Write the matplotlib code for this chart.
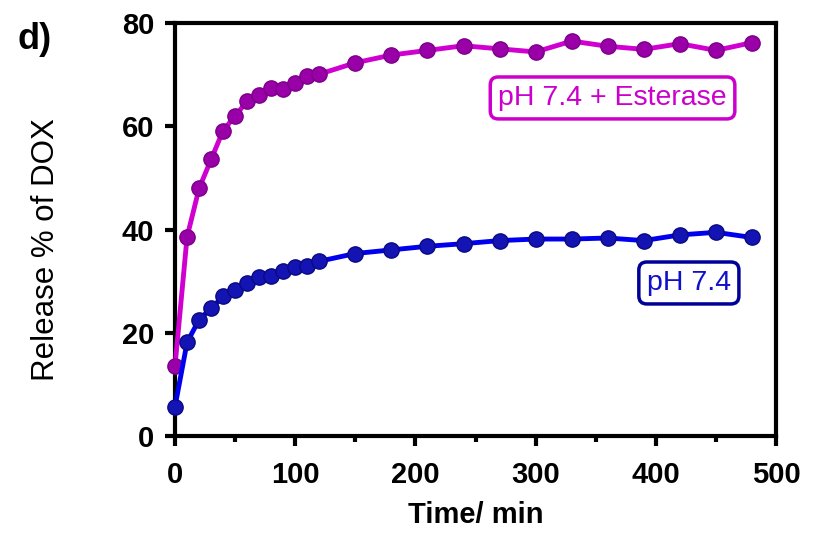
import matplotlib.pyplot as plt
from matplotlib.ticker import MultipleLocator

plt.rcParams['font.family'] = ['Liberation Sans', 'DejaVu Sans']

time_min = [0, 10, 20, 30, 40, 50, 60, 70, 80, 90, 100, 110, 120,
            150, 180, 210, 240, 270, 300, 330, 360, 390, 420, 450, 480]
esterase = [13.7, 38.6, 48.0, 53.6, 59.2, 62.0, 64.9, 66.0, 67.5, 67.3, 68.3, 69.7, 70.1,
            72.3, 73.8, 74.7, 75.6, 75.0, 74.4, 76.5, 75.5, 74.9, 76.0, 74.7, 76.2]
ph74 = [5.8, 18.2, 22.6, 24.8, 27.1, 28.3, 29.7, 30.9, 31.1, 32.1, 32.8, 32.9, 33.9,
        35.4, 36.1, 36.8, 37.3, 37.9, 38.2, 38.2, 38.4, 37.9, 39.0, 39.5, 38.5]

fig = plt.figure(figsize=(8.13, 5.4), dpi=100)
ax = fig.add_axes([0.2153, 0.1917, 0.7392, 0.7657])

ax.plot(time_min, esterase, color='#d000d0', lw=3.5, marker='o', ms=11,
        mfc='#9a00a8', mec='#7a0088', mew=1, zorder=3, clip_on=False)
ax.plot(time_min, ph74, color='#0000ee', lw=3.5, marker='o', ms=11,
        mfc='#1414b4', mec='#0a0a80', mew=1, zorder=3, clip_on=False)

ax.set_xlim(0, 500)
ax.set_ylim(0, 80)
ax.xaxis.set_major_locator(MultipleLocator(100))
ax.xaxis.set_minor_locator(MultipleLocator(50))
ax.yaxis.set_major_locator(MultipleLocator(20))

for s in ax.spines.values():
    s.set_linewidth(3)
ax.tick_params(axis='both', which='major', width=3, length=7, labelsize=21)
ax.tick_params(axis='x', which='minor', width=3, length=4)
ax.tick_params(axis='x', pad=11)
ax.tick_params(axis='y', pad=8)
for lab in ax.get_xticklabels() + ax.get_yticklabels():
    lab.set_fontweight('bold')

ax.set_xlabel('Time/ min', fontsize=21, fontweight='bold', labelpad=8)
ax.set_ylabel('Release % of DOX', fontsize=22.5)
ax.yaxis.set_label_coords(-0.19, 0.451)

ax.text(364, 65.5, 'pH 7.4 + Esterase', color='#cc00cc', fontsize=20.5,
        ha='center', va='center',
        bbox=dict(boxstyle='round,pad=0.28', fc='white', ec='#cc00cc', lw=2.5))
ax.text(427.5, 29.7, 'pH 7.4', color='#1010cc', fontsize=20.5,
        ha='center', va='center',
        bbox=dict(boxstyle='round,pad=0.28', fc='white', ec='#000099', lw=2.5))

fig.text(0.042, 0.926, 'd)', fontsize=26, fontweight='bold', ha='center', va='center')

fig.savefig('out.png', dpi=100)
